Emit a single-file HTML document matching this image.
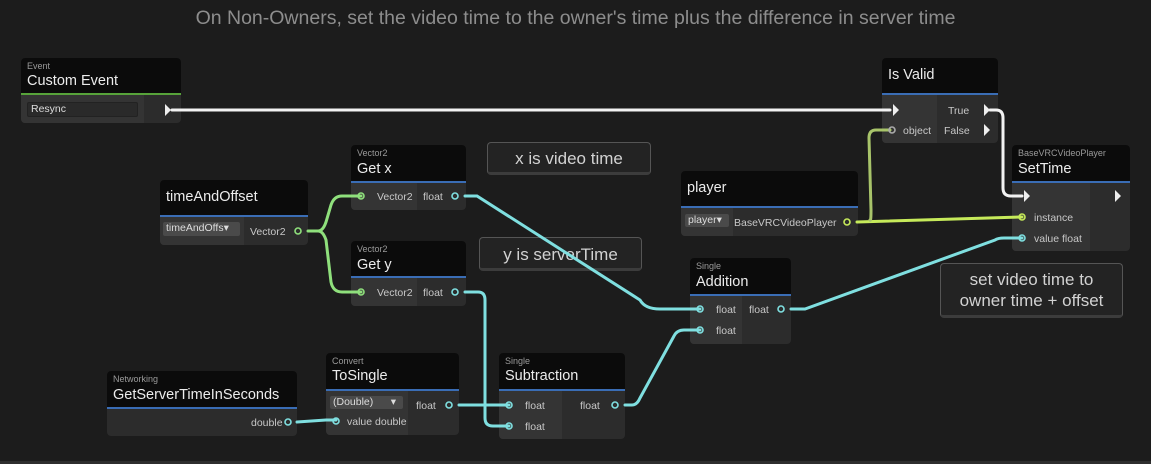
<!DOCTYPE html>
<html><head><meta charset="utf-8"><style>
body{margin:0;width:1151px;height:464px;background:#1c1c1c;overflow:hidden;font-family:"Liberation Sans","DejaVu Sans",sans-serif;position:relative}
.t{position:absolute;left:0;width:1151px;top:7px;text-align:center;color:#8d8d8d;font-size:19.5px}
.n{position:absolute;border-radius:4px;overflow:hidden;background:#2c2c2c}
.h{position:absolute;left:0;right:0;top:0;background:#0b0b0b}
.h .c{position:absolute;left:6px;top:3px;font-size:9px;color:#9a9a9a}
.h .m{position:absolute;left:6px;font-size:14.5px;color:#ececec}
.bl{position:absolute;left:0;right:0;height:2px;background:#3a6db5}
.L{position:absolute;left:0;bottom:0;background:#343434}
.tx{position:absolute;font-size:10.5px;color:#c8c8c8;white-space:nowrap}
.dd{position:absolute;background:#4a4a4a;border-radius:2px;font-size:10.5px;color:#ddd;padding-left:3px;box-sizing:border-box;overflow:hidden;white-space:nowrap}
.cm{position:absolute;border:1px solid #555;border-radius:4px;background:#232323;color:#d2d2d2;text-align:center;font-size:17px;box-sizing:border-box;border-bottom:3px solid #3c3c3c}
svg{position:absolute;left:0;top:0}
</style></head><body>
<div class="t">On Non-Owners, set the video time to the owner's time plus the difference in server time</div>

<div class="n" style="left:21px;top:58px;width:160px;height:65px">
 <div class="h" style="height:35px"><span class="c">Event</span><span class="m" style="top:15px">Custom Event</span></div>
 <div class="bl" style="top:35px;background:#57a33a"></div>
 <div class="L" style="top:37px;width:123px"></div>
 <div class="dd" style="left:6px;top:44px;width:111px;height:15px;background:#2a2a2a;border:1px solid #222">Resync</div>
</div>
<div class="n" style="left:160px;top:180px;width:148px;height:65px">
 <div class="h" style="height:35px"><span class="m" style="top:9px">timeAndOffset</span></div>
 <div class="bl" style="top:35px"></div>
 <div class="L" style="top:37px;width:84px"></div>
 <div class="dd" style="left:3px;top:42px;width:77px;height:14px">timeAndOffs▾</div>
 <div class="tx" style="left:90px;top:46px">Vector2</div>
</div>
<div class="n" style="left:351px;top:145px;width:115px;height:65px">
 <div class="h" style="height:36px"><span class="c">Vector2</span><span class="m" style="top:16px">Get x</span></div>
 <div class="bl" style="top:36px"></div>
 <div class="L" style="top:38px;width:66px"></div>
 <div class="tx" style="left:26px;top:46px">Vector2</div><div class="tx" style="left:72px;top:46px">float</div>
</div>
<div class="n" style="left:351px;top:241px;width:115px;height:65px">
 <div class="h" style="height:35px"><span class="c">Vector2</span><span class="m" style="top:16px">Get y</span></div>
 <div class="bl" style="top:35px"></div>
 <div class="L" style="top:37px;width:66px"></div>
 <div class="tx" style="left:26px;top:46px">Vector2</div><div class="tx" style="left:72px;top:46px">float</div>
</div>
<div class="cm" style="left:487px;top:142px;width:164px;height:33px;padding-top:6px">x is video time</div>
<div class="cm" style="left:479px;top:237px;width:163px;height:34px;padding-top:7px">y is serverTime</div>
<div class="n" style="left:681px;top:171px;width:177px;height:65px">
 <div class="h" style="height:35px"><span class="m" style="top:9px">player</span></div>
 <div class="bl" style="top:35px"></div>
 <div class="L" style="top:37px;width:52px"></div>
 <div class="dd" style="left:4px;top:43px;width:44px;height:13px">player▾</div>
 <div class="tx" style="left:53px;top:46px">BaseVRCVideoPlayer</div>
</div>
<div class="n" style="left:882px;top:58px;width:116px;height:85px">
 <div class="h" style="height:35px"><span class="m" style="top:9px">Is Valid</span></div>
 <div class="bl" style="top:35px"></div>
 <div class="L" style="top:37px;width:55px"></div>
 <div class="tx" style="left:21px;top:67px">object</div>
 <div class="tx" style="left:66px;top:47px">True</div><div class="tx" style="left:62px;top:67px">False</div>
</div>
<div class="n" style="left:1012px;top:145px;width:118px;height:106px">
 <div class="h" style="height:36px"><span class="c">BaseVRCVideoPlayer</span><span class="m" style="top:16px">SetTime</span></div>
 <div class="bl" style="top:36px"></div>
 <div class="L" style="top:38px;width:78px"></div>
 <div class="tx" style="left:22px;top:67px">instance</div>
 <div class="tx" style="left:22px;top:88px">value float</div>
</div>
<div class="cm" style="left:940px;top:263px;width:183px;height:55px;padding-top:5px;line-height:21px">set video time to<br>owner time + offset</div>
<div class="n" style="left:690px;top:258px;width:101px;height:86px">
 <div class="h" style="height:36px"><span class="c">Single</span><span class="m" style="top:16px">Addition</span></div>
 <div class="bl" style="top:36px"></div>
 <div class="L" style="top:38px;width:52px"></div>
 <div class="tx" style="left:26px;top:46px">float</div><div class="tx" style="left:59px;top:46px">float</div>
 <div class="tx" style="left:26px;top:67px">float</div>
</div>
<div class="n" style="left:107px;top:371px;width:190px;height:65px">
 <div class="h" style="height:36px"><span class="c">Networking</span><span class="m" style="top:16px">GetServerTimeInSeconds</span></div>
 <div class="bl" style="top:36px"></div>
 <div class="tx" style="left:144px;top:46px">double</div>
</div>
<div class="n" style="left:326px;top:353px;width:133px;height:82px">
 <div class="h" style="height:36px"><span class="c">Convert</span><span class="m" style="top:15px">ToSingle</span></div>
 <div class="bl" style="top:36px"></div>
 <div class="L" style="top:38px;width:82px"></div>
 <div class="dd" style="left:4px;top:43px;width:73px;height:13px">(Double)&nbsp;&nbsp;&nbsp;&nbsp;&nbsp;&nbsp;▾</div>
 <div class="tx" style="left:21px;top:63px">value double</div>
 <div class="tx" style="left:90px;top:47px">float</div>
</div>
<div class="n" style="left:499px;top:353px;width:126px;height:86px">
 <div class="h" style="height:36px"><span class="c">Single</span><span class="m" style="top:15px">Subtraction</span></div>
 <div class="bl" style="top:36px"></div>
 <div class="L" style="top:38px;width:63px"></div>
 <div class="tx" style="left:26px;top:47px">float</div><div class="tx" style="left:81px;top:47px">float</div>
 <div class="tx" style="left:26px;top:68px">float</div>
</div>

<svg width="1151" height="464" fill="none">
 <rect x="0" y="461" width="1151" height="3" fill="#2e2e2e"/>
 <g stroke-width="3" stroke-linecap="round">
  <path d="M172 110 H890" stroke="#f2f2f2"/>
  <path d="M990 110 H996 Q1003 110 1003 118 V188 Q1003 196 1011 196 H1022" stroke="#f2f2f2"/>
  <path d="M308 231 H318 Q323 231 326 222 L331 205 Q334 196 342 196 H361 M318 231 Q323 231 326 240 L331 282 Q333 292 342 292 H361" stroke="#8fe07c"/>
  <path d="M857 222 L1022 217" stroke="#c6ea5a"/>
  <path d="M870 220 Q871 222 871 210 L869 138 Q869 130 876 130 H890" stroke="#a8c46a"/>
  <path d="M465 196 H477 L640 300 Q645 309 660 309 H700" stroke="#7fdfe0"/>
  <path d="M465 292 H478 Q485 292 485 300 V418 Q485 426 493 426 H509" stroke="#7fdfe0"/>
  <path d="M459 405 H509" stroke="#7fdfe0"/>
  <path d="M297 422 L326 420 H336" stroke="#7fdfe0"/>
  <path d="M625 405 H632 Q637 405 640 398 L674 336 Q677 330 684 330 H700" stroke="#7fdfe0"/>
  <path d="M791 309 H805 L995 240 Q998 238 1004 238 H1022" stroke="#7fdfe0"/>
 </g>
 <g fill="#eee">
  <path d="M165 104 L171 110 L165 116Z"/><path d="M893 104 L899 110 L893 116Z"/>
  <path d="M984 104 L990 110 L984 116Z"/><path d="M984 124 L990 130 L984 136Z"/>
  <path d="M1024 190 L1030 196 L1024 202Z"/><path d="M1115 190 L1121 196 L1115 202Z"/>
 </g>
 <g stroke-width="1.6">
  <circle cx="298" cy="231" r="3" stroke="#8fe07c"/><circle cx="361" cy="196" r="3" stroke="#8fe07c"/><circle cx="361" cy="292" r="3" stroke="#8fe07c"/>
  <circle cx="455" cy="196" r="3" stroke="#7fdfe0"/><circle cx="455" cy="292" r="3" stroke="#7fdfe0"/>
  <circle cx="847" cy="222" r="3" stroke="#c6ea5a"/><circle cx="1022" cy="217" r="3" stroke="#c6ea5a"/>
  <circle cx="892" cy="130" r="3" stroke="#aaa"/><circle cx="1022" cy="238" r="3" stroke="#7fdfe0"/>
  <circle cx="700" cy="309" r="3" stroke="#7fdfe0"/><circle cx="700" cy="330" r="3" stroke="#7fdfe0"/><circle cx="781" cy="309" r="3" stroke="#7fdfe0"/>
  <circle cx="288" cy="422" r="3" stroke="#7fdfe0"/><circle cx="336" cy="421" r="3" stroke="#7fdfe0"/><circle cx="449" cy="405" r="3" stroke="#7fdfe0"/>
  <circle cx="509" cy="405" r="3" stroke="#7fdfe0"/><circle cx="509" cy="426" r="3" stroke="#7fdfe0"/><circle cx="615" cy="405" r="3" stroke="#7fdfe0"/>
 </g>
</svg>
</body></html>
